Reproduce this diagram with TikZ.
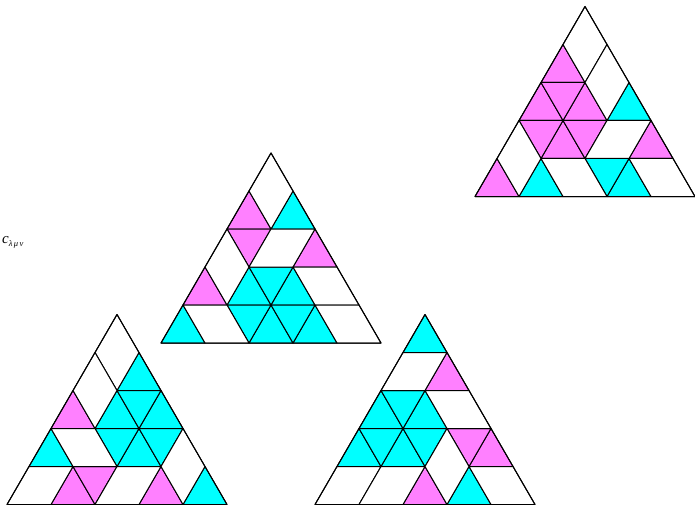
\documentclass[tikz,border=0pt]{standalone}
\usepackage{fontspec}
\setmainfont{Liberation Serif}
\definecolor{pk}{RGB}{255,128,255}
\definecolor{cy}{RGB}{0,255,255}
\tikzset{
  tile/.style={draw=black, line width=1pt, line join=round},
  pt/.style={tile, fill=pk},
  ct/.style={tile, fill=cy},
  wt/.style={tile, fill=white},
}
% lattice of a size-5 triangle: name, apex x, apex y
\newcommand{\mklat}[3]{%
  \foreach \pp in {0,...,5}{\foreach \qq in {0,...,\pp}{%
    \coordinate (#1-\pp-\qq) at ({#2+44*(\qq-\pp/2)},{#3+38*\pp});}}}
% up triangle (row, index)
\newcommand{\UT}[4]{\pgfmathtruncatemacro\rnx{#2+1}\pgfmathtruncatemacro\inx{#3+1}%
  \path[#4] (#1-#2-#3) -- (#1-\rnx-\inx) -- (#1-\rnx-#3) -- cycle;}
% down triangle (row, index)
\newcommand{\DT}[4]{\pgfmathtruncatemacro\rnx{#2+1}\pgfmathtruncatemacro\inx{#3+1}%
  \path[#4] (#1-#2-#3) -- (#1-#2-\inx) -- (#1-\rnx-\inx) -- cycle;}
% vertical rhombus: up(r,i)+down(r+1,i)
\newcommand{\VR}[4]{\pgfmathtruncatemacro\rnx{#2+1}\pgfmathtruncatemacro\rnxx{#2+2}\pgfmathtruncatemacro\inx{#3+1}%
  \path[#4] (#1-#2-#3) -- (#1-\rnx-\inx) -- (#1-\rnxx-\inx) -- (#1-\rnx-#3) -- cycle;}
% rhombus up(r,i)+down(r,i)
\newcommand{\HA}[4]{\pgfmathtruncatemacro\rnx{#2+1}\pgfmathtruncatemacro\inx{#3+1}%
  \path[#4] (#1-#2-#3) -- (#1-#2-\inx) -- (#1-\rnx-\inx) -- (#1-\rnx-#3) -- cycle;}
% rhombus down(r,j)+up(r,j+1)
\newcommand{\HB}[4]{\pgfmathtruncatemacro\rnx{#2+1}\pgfmathtruncatemacro\inx{#3+1}\pgfmathtruncatemacro\inxx{#3+2}%
  \path[#4] (#1-#2-#3) -- (#1-#2-\inx) -- (#1-\rnx-\inxx) -- (#1-\rnx-\inx) -- cycle;}
\newcommand{\outline}[1]{\path[tile] (#1-0-0) -- (#1-5-0) -- (#1-5-5) -- cycle;}
\begin{document}
\begin{tikzpicture}[x=1pt,y=-1pt]
\useasboundingbox (0,0) rectangle (695,505);
\mklat{A}{585}{6.5}
\mklat{B}{271}{153}
\mklat{C}{117}{314.5}
\mklat{D}{425}{314.5}
% ---- A (top right)
\UT{A}{1}{0}{pt}\UT{A}{2}{0}{pt}\UT{A}{2}{1}{pt}\UT{A}{3}{1}{pt}\UT{A}{3}{3}{pt}\UT{A}{4}{0}{pt}
\UT{A}{2}{2}{ct}\UT{A}{4}{1}{ct}\UT{A}{4}{3}{ct}
\DT{A}{2}{0}{pt}\DT{A}{3}{0}{pt}\DT{A}{3}{1}{pt}\DT{A}{4}{2}{ct}
\VR{A}{0}{0}{wt}\VR{A}{1}{1}{wt}\VR{A}{3}{0}{wt}
\HA{A}{3}{2}{wt}\HB{A}{4}{1}{wt}\HB{A}{4}{3}{wt}
\outline{A}
% ---- B (middle)
\UT{B}{1}{0}{pt}\UT{B}{2}{2}{pt}\UT{B}{3}{0}{pt}
\UT{B}{1}{1}{ct}\UT{B}{3}{1}{ct}\UT{B}{3}{2}{ct}\UT{B}{4}{0}{ct}\UT{B}{4}{2}{ct}\UT{B}{4}{3}{ct}
\DT{B}{2}{0}{pt}\DT{B}{3}{1}{ct}\DT{B}{4}{1}{ct}\DT{B}{4}{2}{ct}
\VR{B}{0}{0}{wt}\VR{B}{2}{0}{wt}
\HA{B}{2}{1}{wt}\HB{B}{3}{2}{wt}\HB{B}{4}{0}{wt}\HB{B}{4}{3}{wt}
\outline{B}
% ---- C (bottom left)
\UT{C}{1}{1}{ct}\UT{C}{2}{1}{ct}\UT{C}{2}{2}{ct}\UT{C}{3}{0}{ct}\UT{C}{3}{2}{ct}\UT{C}{4}{4}{ct}
\UT{C}{2}{0}{pt}\UT{C}{4}{1}{pt}\UT{C}{4}{3}{pt}
\DT{C}{2}{1}{ct}\DT{C}{3}{1}{ct}\DT{C}{3}{2}{ct}\DT{C}{4}{1}{pt}
\VR{C}{0}{0}{wt}\VR{C}{1}{0}{wt}\VR{C}{3}{3}{wt}
\HB{C}{3}{0}{wt}\HA{C}{4}{0}{wt}\HA{C}{4}{2}{wt}
\outline{C}
% ---- D (bottom right)
\UT{D}{0}{0}{ct}\UT{D}{2}{0}{ct}\UT{D}{2}{1}{ct}\UT{D}{3}{0}{ct}\UT{D}{3}{1}{ct}\UT{D}{4}{3}{ct}
\UT{D}{1}{1}{pt}\UT{D}{3}{3}{pt}\UT{D}{4}{2}{pt}
\DT{D}{2}{0}{ct}\DT{D}{3}{0}{ct}\DT{D}{3}{1}{ct}\DT{D}{3}{2}{pt}
\HA{D}{1}{0}{wt}\HA{D}{4}{0}{wt}\HA{D}{4}{1}{wt}
\HB{D}{2}{1}{wt}\HB{D}{4}{3}{wt}\VR{D}{3}{2}{wt}
\outline{D}
% label
\node[anchor=base west, inner sep=0pt, font=\fontsize{15}{17}\selectfont\itshape] (lbl) at (2,243)
  {c\raisebox{-3pt}{\fontsize{8.5}{10}\selectfont λ\,μ\,ν}};
\end{tikzpicture}
\end{document}
